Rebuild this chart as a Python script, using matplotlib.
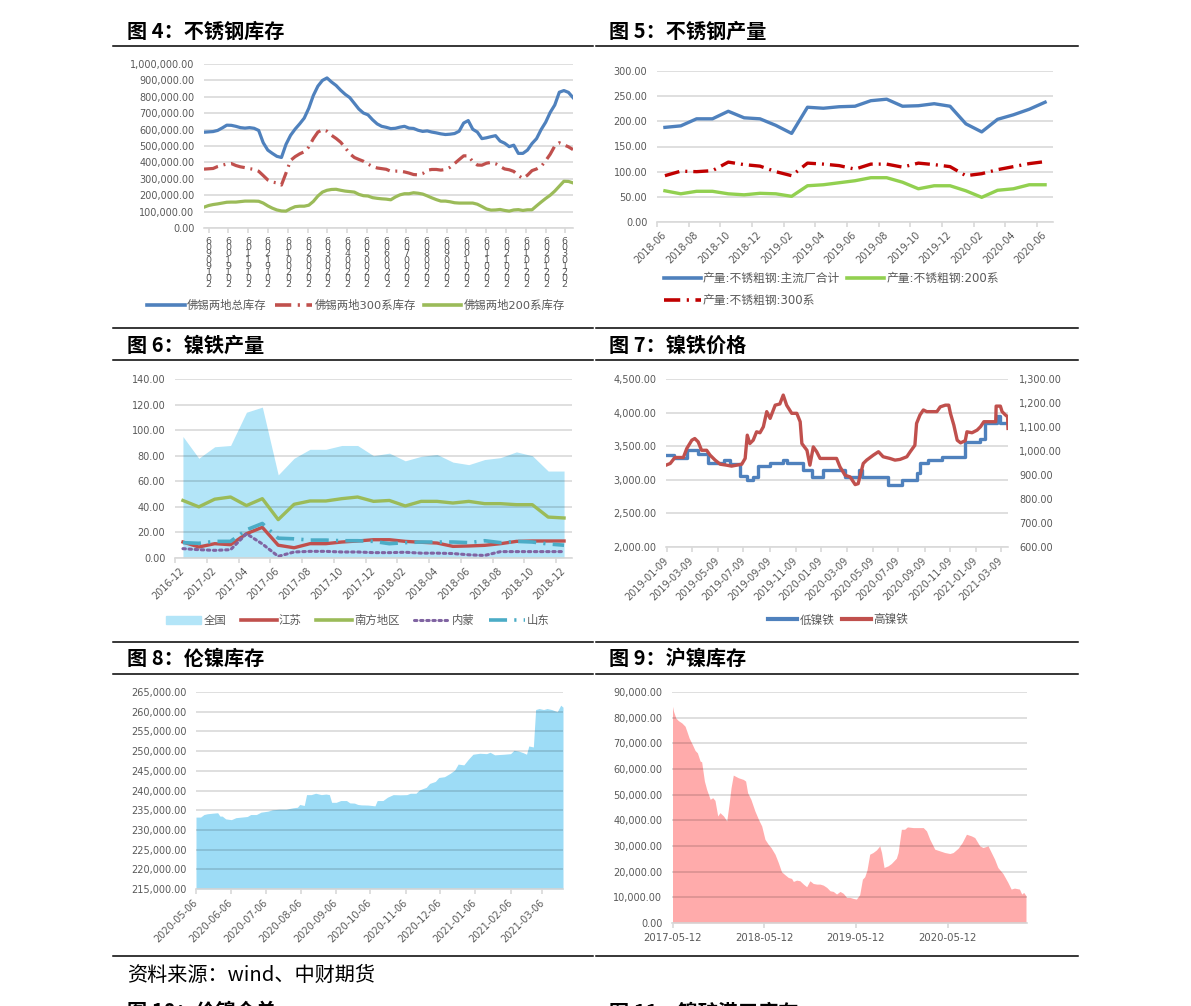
import matplotlib
matplotlib.use('Agg')
import matplotlib.pyplot as plt
from matplotlib.ticker import FuncFormatter
from matplotlib.lines import Line2D
from matplotlib.patches import Patch
import pandas as pd

plt.rcParams['font.family'] = ['DejaVu Sans', 'Noto Sans CJK SC']

# ---- 图4 不锈钢库存 (weekly, from 2019-08-30) ----
total4 = [584, 586, 588, 595, 610, 627, 626, 620, 612, 609, 612, 608, 595, 520, 475, 455, 437, 430,
          510, 565, 603, 635, 670, 730, 808, 865, 900, 915, 890, 869, 840, 815, 795, 760, 725, 701,
          690, 660, 635, 620, 614, 606, 608, 615, 620, 609, 607, 596, 589, 592, 585, 580, 574, 570,
          572, 576, 590, 640, 655, 602, 585, 545, 550, 557, 563, 530, 517, 496, 505, 455, 455, 475,
          515, 545, 600, 645, 705, 750, 828, 838, 827, 795]
s300_4 = [359, 361, 363, 375, 383, 390, 393, 381, 373, 368, 362, 357, 346, 320, 293, 280, 275, 262,
          335, 412, 435, 452, 465, 494, 545, 585, 599, 590, 565, 546, 523, 490, 453, 430, 418, 407,
          390, 375, 366, 362, 358, 346, 347, 346, 342, 335, 326, 324, 332, 352, 357, 357, 353, 357,
          370, 393, 417, 440, 440, 405, 384, 383, 395, 400, 392, 375, 360, 355, 345, 320, 302, 322,
          350, 360, 375, 410, 450, 500, 520, 507, 495, 478]
s200_4 = [127, 137, 143, 147, 152, 157, 158, 158, 161, 164, 164, 164, 163, 152, 135, 121, 110, 104,
          103, 118, 130, 133, 133, 139, 162, 195, 219, 230, 235, 236, 230, 225, 222, 219, 205, 197,
          195, 185, 181, 178, 176, 172, 189, 202, 209, 209, 215, 212, 207, 196, 184, 173, 164, 164,
          160, 154, 152, 152, 152, 152, 145, 131, 116, 109, 110, 113, 107, 103, 110, 112, 107, 111,
          111, 135, 158, 180, 200, 225, 255, 285, 284, 275]
total4 = [v * 1000 for v in total4]
s300_4 = [v * 1000 for v in s300_4]
s200_4 = [v * 1000 for v in s200_4]

# ---- 图5 不锈钢产量 (monthly 2018-06 .. 2020-06) ----
months5 = ['2018-06', '2018-07', '2018-08', '2018-09', '2018-10', '2018-11', '2018-12', '2019-01',
           '2019-02', '2019-03', '2019-04', '2019-05', '2019-06', '2019-07', '2019-08', '2019-09',
           '2019-10', '2019-11', '2019-12', '2020-01', '2020-02', '2020-03', '2020-04', '2020-05', '2020-06']
main5 = [188, 191, 205, 205, 220, 207, 205, 192, 176, 228, 226, 229, 230, 241, 244, 230, 231, 235,
         230, 195, 179, 204, 213, 224, 238]
s300_5 = [92, 101, 100, 102, 119, 114, 111, 100, 92, 117, 115, 112, 105, 115, 115, 109, 117, 114,
          110, 92, 96, 104, 110, 116, 120]
s200_5 = [62, 56, 61, 61, 56, 54, 57, 56, 51, 72, 74, 78, 82, 88, 88, 79, 66, 72, 72, 62, 49, 63,
          66, 74, 74]

# ---- 图6 镍铁产量 (monthly 2016-12 .. 2018-12) ----
months6 = ['2016-12', '2017-01', '2017-02', '2017-03', '2017-04', '2017-05', '2017-06', '2017-07',
           '2017-08', '2017-09', '2017-10', '2017-11', '2017-12', '2018-01', '2018-02', '2018-03',
           '2018-04', '2018-05', '2018-06', '2018-07', '2018-08', '2018-09', '2018-10', '2018-11', '2018-12']
nation6 = [95, 78, 87, 88, 114, 118, 65, 78, 85, 85, 88, 88, 80, 82, 76, 79.5, 81, 75, 73, 77, 78.5,
           83, 80, 68, 68]
jiangsu6 = [12.5, 8.6, 11.2, 10.4, 19, 24, 10, 8, 11.2, 11.2, 12.5, 13.3, 14.3, 14.3, 13, 12.3, 11.7,
            9.1, 9.4, 9.9, 11.2, 13, 13.3, 13.3, 13.3]
south6 = [45, 40, 46, 47.7, 41, 46.4, 30, 42, 44.6, 44.6, 46.4, 47.7, 44.3, 45, 40.7, 44.3, 44.3, 43,
          44.3, 42.5, 42.5, 41.7, 41.7, 32, 31.3]
neimeng6 = [7.3, 6.5, 6, 6.5, 19, 11, 1.3, 4.7, 5.2, 5.2, 4.7, 4.7, 4.2, 4.2, 4.5, 3.8, 3.8, 3.5, 2.5,
            2, 5, 5, 5, 5, 5]
shandong6 = [12, 11.5, 13, 13, 22, 27, 15.5, 15, 14, 14, 13.5, 13.5, 13, 11.2, 12, 12.5, 12.5, 12.5,
             12, 13.5, 12, 13, 12.5, 11, 10]

# ---- 图7 镍铁价格 ----
low7_dates = ['2019-01-07', '2019-01-25', '2019-02-25', '2019-03-24', '2019-04-17', '2019-05-23',
              '2019-06-07', '2019-07-01', '2019-07-17', '2019-08-01', '2019-08-13', '2019-09-10',
              '2019-10-11', '2019-10-19', '2019-11-27', '2019-12-17', '2020-01-13', '2020-03-04',
              '2020-04-08', '2020-04-13', '2020-06-15', '2020-07-17', '2020-08-21', '2020-08-29',
              '2020-09-18', '2020-10-20', '2020-12-14', '2021-01-18', '2021-01-30', '2021-02-27',
              '2021-03-07', '2021-03-25']
low7 = [3370, 3320, 3450, 3390, 3250, 3290, 3230, 3050, 3000, 3040, 3200, 3250, 3290, 3250, 3150,
        3040, 3150, 3040, 3140, 3040, 2930, 3000, 3100, 3250, 3290, 3340, 3560, 3610, 3840, 3950,
        3850, 3820]
high7_dates = ['2019-01-07', '2019-01-17', '2019-01-28', '2019-02-17', '2019-02-25', '2019-03-09',
               '2019-03-16', '2019-03-24', '2019-04-01', '2019-04-13', '2019-04-21', '2019-05-03',
               '2019-05-15', '2019-05-30', '2019-06-11', '2019-06-23', '2019-07-05', '2019-07-13',
               '2019-07-18', '2019-07-24', '2019-08-01', '2019-08-09', '2019-08-17', '2019-08-25',
               '2019-09-02', '2019-09-10', '2019-09-22', '2019-10-03', '2019-10-11', '2019-10-19',
               '2019-10-31', '2019-11-12', '2019-11-20', '2019-11-24', '2019-12-06', '2019-12-13',
               '2019-12-21', '2019-12-29', '2020-01-06', '2020-01-22', '2020-02-14', '2020-02-22',
               '2020-03-05', '2020-03-17', '2020-03-29', '2020-04-05', '2020-04-17', '2020-04-25',
               '2020-05-11', '2020-05-23', '2020-06-03', '2020-06-19', '2020-07-01', '2020-07-13',
               '2020-07-29', '2020-08-06', '2020-08-17', '2020-08-21', '2020-08-29', '2020-09-06',
               '2020-09-14', '2020-10-08', '2020-10-16', '2020-10-28', '2020-11-05', '2020-11-09',
               '2020-11-17', '2020-11-25', '2020-12-03', '2020-12-14', '2020-12-18', '2020-12-30',
               '2021-01-11', '2021-01-19', '2021-01-27', '2021-02-08', '2021-02-24', '2021-02-25',
               '2021-03-07', '2021-03-11', '2021-03-19', '2021-03-24', '2021-03-25']
high7 = [941, 948, 973, 973, 1010, 1045, 1052, 1038, 1003, 1003, 983, 962, 945, 941, 937, 941, 945,
         969, 1066, 1031, 1045, 1080, 1076, 1101, 1164, 1136, 1191, 1196, 1233, 1191, 1157, 1157, 1122,
         1031, 1003, 941, 1017, 997, 969, 969, 969, 934, 899, 892, 860, 864, 948, 962, 983, 997, 976,
         969, 962, 965, 976, 997, 1024, 1115, 1150, 1171, 1164, 1164, 1184, 1191, 1191, 1157, 1108,
         1045, 1034, 1043, 1080, 1076, 1087, 1101, 1122, 1122, 1122, 1187, 1187, 1164, 1150, 1143, 1094]

# ---- 图8 伦镍库存 ----
lme_dates = ['2020-05-06', '2020-05-10', '2020-05-13', '2020-05-16', '2020-05-21', '2020-05-25',
             '2020-05-27', '2020-05-29', '2020-06-01', '2020-06-06', '2020-06-10', '2020-06-15',
             '2020-06-20', '2020-06-23', '2020-06-28', '2020-07-02', '2020-07-08', '2020-07-12',
             '2020-07-18', '2020-07-24', '2020-07-30', '2020-08-03', '2020-08-05', '2020-08-09',
             '2020-08-11', '2020-08-15', '2020-08-19', '2020-08-24', '2020-08-28', '2020-08-31',
             '2020-09-02', '2020-09-06', '2020-09-10', '2020-09-15', '2020-09-18', '2020-09-22',
             '2020-09-25', '2020-09-28', '2020-10-04', '2020-10-10', '2020-10-12', '2020-10-17',
             '2020-10-21', '2020-10-26', '2020-11-01', '2020-11-07', '2020-11-10', '2020-11-15',
             '2020-11-18', '2020-11-24', '2020-11-27', '2020-12-02', '2020-12-05', '2020-12-10',
             '2020-12-15', '2020-12-19', '2020-12-22', '2020-12-27', '2020-12-31', '2021-01-04',
             '2021-01-10', '2021-01-16', '2021-01-19', '2021-01-23', '2021-01-31', '2021-02-06',
             '2021-02-09', '2021-02-13', '2021-02-17', '2021-02-20', '2021-02-22', '2021-02-26',
             '2021-02-28', '2021-03-03', '2021-03-07', '2021-03-10', '2021-03-14', '2021-03-19',
             '2021-03-22', '2021-03-24']
lme = [233250, 233250, 233900, 234100, 234250, 234350, 233500, 233500, 232800, 232600, 233100,
       233250, 233400, 233900, 233900, 234500, 234750, 235100, 235250, 235250, 235600, 235750,
       236450, 236200, 238950, 238950, 239300, 238950, 239100, 238950, 237000, 237000, 237450,
       237450, 236850, 236800, 236450, 236350, 236300, 236100, 237450, 237450, 238300, 238950,
       238900, 238950, 239300, 239300, 240150, 240800, 241800, 242300, 243300, 243500, 244350,
       245200, 246700, 246500, 247950, 249200, 249450, 249350, 249700, 249050, 249200, 249350,
       250200, 250000, 249600, 249200, 251300, 251050, 260550, 260800, 260550, 260800, 260550,
       260000, 261650, 261150]

# ---- 图9 沪镍库存 ----
shfe_dates = ['2017-05-12', '2017-05-16', '2017-05-25', '2017-06-04', '2017-06-18', '2017-07-01',
              '2017-07-08', '2017-07-17', '2017-07-30', '2017-08-10', '2017-08-19', '2017-08-30',
              '2017-09-05', '2017-09-16', '2017-09-25', '2017-10-09', '2017-10-19', '2017-10-28',
              '2017-11-08', '2017-11-17', '2017-12-01', '2017-12-14', '2017-12-23', '2017-12-31',
              '2018-01-09', '2018-01-29', '2018-02-18', '2018-02-27', '2018-03-07', '2018-03-20',
              '2018-04-05', '2018-04-19', '2018-05-02', '2018-05-15', '2018-05-28', '2018-06-08',
              '2018-06-24', '2018-07-07', '2018-07-20', '2018-08-03', '2018-08-16', '2018-08-29',
              '2018-09-05', '2018-09-18', '2018-10-01', '2018-10-15', '2018-10-28', '2018-11-10',
              '2018-11-23', '2018-12-07', '2018-12-20', '2019-01-02', '2019-01-16', '2019-01-29',
              '2019-02-11', '2019-02-24', '2019-03-10', '2019-03-23', '2019-04-05', '2019-04-18',
              '2019-05-01', '2019-05-14', '2019-05-27', '2019-06-07', '2019-06-16', '2019-06-25',
              '2019-07-06', '2019-07-19', '2019-08-02', '2019-08-15', '2019-08-22', '2019-09-01',
              '2019-09-17', '2019-09-30', '2019-10-20', '2019-10-27', '2019-11-09', '2019-11-22',
              '2019-12-03', '2019-12-26', '2020-01-15', '2020-02-04', '2020-02-17', '2020-03-01',
              '2020-03-21', '2020-04-10', '2020-04-30', '2020-05-20', '2020-06-02', '2020-06-22',
              '2020-07-08', '2020-07-25', '2020-08-14', '2020-08-27', '2020-09-16', '2020-09-29',
              '2020-10-19', '2020-11-01', '2020-11-14', '2020-11-27', '2020-12-17', '2021-01-06',
              '2021-01-19', '2021-02-01', '2021-02-21', '2021-03-02', '2021-03-10', '2021-03-19']
shfe = [84430, 82490, 79900, 78870, 77960, 76670, 74720, 72130, 69540, 67210, 66300, 63070, 62800,
        55300, 52060, 48170, 48820, 47780, 41700, 42990, 41700, 39760, 46230, 52700, 57630, 56590,
        55940, 55300, 50760, 48170, 43640, 40400, 37810, 32630, 30690, 29400, 26800, 23570, 19940,
        18770, 17740, 17350, 16190, 16700, 16450, 15150, 14120, 16450, 15410, 15150, 15150, 14760,
        13860, 12560, 12300, 11270, 12300, 11530, 9970, 9970, 9580, 9320, 11010, 17090, 18000, 20590,
        26800, 27450, 28490, 30040, 27450, 21630, 22270, 23180, 25250, 27450, 36520, 36520, 37430,
        37170, 37170, 37170, 35870, 32630, 28750, 28100, 27450, 27070, 27450, 29140, 31340, 34580,
        33930, 33280, 30040, 29400, 30040, 27450, 24860, 21630, 19300, 15800, 13210, 13600, 13210,
        11270, 11920, 10620]

W, H = 1191, 1006
fig = plt.figure(figsize=(W / 100, H / 100), dpi=100)
grey = '#595959'
blue, red, green = '#4f81bd', '#c0504d', '#9bbb59'
fmt2 = FuncFormatter(lambda v, p: f'{v:,.2f}')


def add_ax(x0, y0, x1, y1):
    return fig.add_axes([x0 / W, 1 - y1 / H, (x1 - x0) / W, (y1 - y0) / H])


def style(ax):
    for s in ['top', 'left', 'right']:
        ax.spines[s].set_visible(False)
    ax.spines['bottom'].set_color('#d9d9d9')
    ax.spines['bottom'].set_linewidth(1.2)
    ax.yaxis.grid(True, color='k', alpha=0.15, lw=1.2)
    ax.set_axisbelow('line')
    ax.tick_params(axis='y', length=0, pad=7, labelsize=7, labelcolor=grey)
    ax.tick_params(axis='x', which='both', length=3.5, color='#d9d9d9', width=1.2,
                   labelsize=7, labelcolor=grey)
    ax.yaxis.set_major_formatter(fmt2)


def hline(y, x0, x1):
    fig.add_artist(Line2D([x0 / W, x1 / W], [1 - y / H] * 2, color='k', lw=1.1,
                          transform=fig.transFigure))


def title(x, y, s):
    fig.text(x / W, 1 - y / H, s, fontsize=14.5, fontweight='bold', va='center',
             family=['Noto Sans CJK SC', 'DejaVu Sans'])


def legend(ax, handles, labels, cx, cy, ncol, size=8.2, loc='center', **kw):
    leg = ax.legend(handles, labels, loc=loc, bbox_to_anchor=(cx / W, 1 - cy / H),
                    bbox_transform=fig.transFigure, ncol=ncol, frameon=False, fontsize=size,
                    handletextpad=0.2, borderaxespad=0, borderpad=0, **kw)
    for t in leg.get_texts():
        t.set_color(grey)


# section lines and titles
for y in [46, 328, 360, 642, 674, 956]:
    hline(y, 113, 593)
    hline(y, 596, 1078)
title(127, 31, '图 4：不锈钢库存')
title(609, 31, '图 5：不锈钢产量')
title(127, 345, '图 6：镍铁产量')
title(609, 345, '图 7：镍铁价格')
title(127, 658, '图 8：伦镍库存')
title(609, 658, '图 9：沪镍库存')
title(127, 1012, '图 10：伦镍仓单')
title(609, 1012, '图 11：镍矿港口库存')
fig.text(127 / W, 1 - 975 / H, '资料来源：wind、中财期货', fontsize=14.5, va='center',
         family=['Noto Sans CJK SC', 'DejaVu Sans'])

dash_dot = (4.5, 1.8, 0.6, 1.8)

# ---- panel 4 ----
d4 = pd.date_range('2019-08-30', periods=len(total4), freq='7D')
ax4 = add_ax(204, 64, 573, 228)
style(ax4)
ax4.plot(d4, total4, color=blue, lw=2.3)
ax4.plot(d4, s300_4, color=red, lw=2.3, dashes=dash_dot)
ax4.plot(d4, s200_4, color=green, lw=2.3)
ax4.set_ylim(0, 1000000)
ax4.set_yticks(range(0, 1000001, 100000))
ax4.set_xlim(pd.Timestamp('2019-08-30'), pd.Timestamp('2021-03-19'))
ticks4 = pd.date_range('2019-09-06', '2021-03-06', freq=pd.DateOffset(months=1))
ax4.set_xticks(ticks4)
ax4.set_xticklabels(['\n'.join(reversed(t.strftime('%Y%m%d'))) for t in ticks4],
                    linespacing=0.6, fontsize=6.8)
ax4.tick_params(axis='x', pad=3)
h4 = [Line2D([], [], color=blue, lw=2.6), Line2D([], [], color=red, lw=2.6, dashes=dash_dot),
      Line2D([], [], color=green, lw=2.6)]
legend(ax4, h4, ['佛锡两地总库存', '佛锡两地300系库存', '佛锡两地200系库存'], 356, 305, 3,
       handlelength=3.3, columnspacing=0.7)

# ---- panel 5 ----
ax5 = add_ax(657, 71, 1053, 222)
style(ax5)
x5 = range(len(months5))
ax5.plot(x5, main5, color=blue, lw=2.4)
ax5.plot(x5, s300_5, color='#c00000', lw=2.4, dashes=dash_dot)
ax5.plot(x5, s200_5, color='#92d050', lw=2.4)
ax5.set_ylim(0, 300)
ax5.set_yticks(range(0, 301, 50))
ax5.set_xlim(-0.5, len(months5) - 0.5)
ax5.set_xticks(range(0, len(months5), 2))
ax5.set_xticklabels(months5[::2], rotation=45, ha='right', va='center', rotation_mode='anchor')
ax5.set_xticks([i - 0.5 for i in range(0, len(months5) + 1, 2)], minor=True)
ax5.tick_params(axis='x', which='major', length=0, pad=8)
h5 = [Line2D([], [], color=blue, lw=2.6), Line2D([], [], color='#c00000', lw=2.6, dashes=dash_dot),
      Line2D([], [], color='#92d050', lw=2.6)]
legend(ax5, h5, ['产量:不锈粗钢:主流厂合计', '产量:不锈粗钢:300系', '产量:不锈粗钢:200系'],
       664, 272, 2, size=8.5, loc='upper left', handlelength=3.1, columnspacing=0.6,
       labelspacing=0.75)

# ---- panel 6 ----
ax6 = add_ax(175, 379, 572, 558)
style(ax6)
x6 = range(len(months6))
ax6.fill_between(x6, nation6, 0, color='#b3e5f8', lw=0)
ax6.plot(x6, jiangsu6, color=red, lw=2.4)
ax6.plot(x6, south6, color=green, lw=2.4)
ax6.plot(x6, neimeng6, color='#8064a2', lw=2.2, dashes=(0.8, 1.2), dash_capstyle='round')
ax6.plot(x6, shandong6, color='#4bacc6', lw=2.6, dashes=(5, 2, 0.6, 2))
ax6.set_ylim(0, 140)
ax6.set_yticks(range(0, 141, 20))
ax6.set_xlim(-0.5, len(months6) - 0.5)
ax6.set_xticks(range(0, len(months6), 2))
ax6.set_xticklabels(months6[::2], rotation=45, ha='right', va='center', rotation_mode='anchor')
ax6.set_xticks([i - 0.5 for i in range(0, len(months6) + 1, 2)], minor=True)
ax6.tick_params(axis='x', which='major', length=0, pad=8)
h6 = [Patch(color='#b3e5f8'), Line2D([], [], color=red, lw=2.6), Line2D([], [], color=green, lw=2.6),
      Line2D([], [], color='#8064a2', lw=2.2, dashes=(0.8, 1.2), dash_capstyle='round'),
      Line2D([], [], color='#4bacc6', lw=2.6, dashes=(5, 2, 0.6, 2))]
legend(ax6, h6, ['全国', '江苏', '南方地区', '内蒙', '山东'], 358, 620, 5,
       handlelength=3.1, columnspacing=1.3)

# ---- panel 7 ----
ax7 = add_ax(666, 379, 1008, 547)
style(ax7)
ax7.step(pd.to_datetime(low7_dates), low7, where='post', color=blue, lw=2.4)
ax7.set_ylim(2000, 4500)
ax7.set_yticks(range(2000, 4501, 500))
ax7b = ax7.twinx()
for s in ['top', 'left', 'right', 'bottom']:
    ax7b.spines[s].set_visible(False)
ax7b.plot(pd.to_datetime(high7_dates), high7, color=red, lw=2.4)
ax7b.set_ylim(600, 1300)
ax7b.set_yticks(range(600, 1301, 100))
ax7b.yaxis.set_major_formatter(fmt2)
ax7b.tick_params(axis='y', length=0, pad=8, labelsize=7, labelcolor=grey)
ax7.set_xlim(pd.Timestamp('2019-01-07'), pd.Timestamp('2021-03-25'))
ticks7 = pd.date_range('2019-01-09', '2021-03-09', freq=pd.DateOffset(months=2))
ax7.set_xticks(ticks7)
ax7.set_xticklabels([t.strftime('%Y-%m-%d') for t in ticks7], rotation=45, ha='right',
                    va='center', rotation_mode='anchor')
ax7.tick_params(axis='x', pad=5)
h7 = [Line2D([], [], color=blue, lw=3), Line2D([], [], color=red, lw=3)]
legend(ax7b, h7, ['低镍铁', '高镍铁'], 838, 620, 2, size=8.4, handlelength=2.5, columnspacing=0.6)

# ---- panel 8 ----
ax8 = add_ax(196, 692, 563, 889)
style(ax8)
ax8.fill_between(pd.to_datetime(lme_dates), lme, 215000, color='#9ddcf6', lw=0)
ax8.set_ylim(215000, 265000)
ax8.set_yticks(range(215000, 265001, 5000))
ax8.set_xlim(pd.Timestamp('2020-05-06'), pd.Timestamp('2021-03-24'))
ticks8 = pd.date_range('2020-05-06', '2021-03-06', freq=pd.DateOffset(months=1))
ax8.set_xticks(ticks8)
ax8.set_xticklabels([t.strftime('%Y-%m-%d') for t in ticks8], rotation=45, ha='right',
                    va='center', rotation_mode='anchor')
ax8.tick_params(axis='x', pad=5)

# ---- panel 9 ----
ax9 = add_ax(672, 692, 1027, 923)
style(ax9)
ax9.fill_between(pd.to_datetime(shfe_dates), shfe, 0, color='#ffabab', lw=0)
ax9.set_ylim(0, 90000)
ax9.set_yticks(range(0, 90001, 10000))
ax9.set_xlim(pd.Timestamp('2017-05-10'), pd.Timestamp('2021-03-23'))
ticks9 = pd.to_datetime(['2017-05-12', '2018-05-12', '2019-05-12', '2020-05-12'])
ax9.set_xticks(ticks9)
ax9.set_xticklabels([t.strftime('%Y-%m-%d') for t in ticks9])
ax9.tick_params(axis='x', pad=4, labelsize=7.3)

fig.savefig('out.png', dpi=100)
